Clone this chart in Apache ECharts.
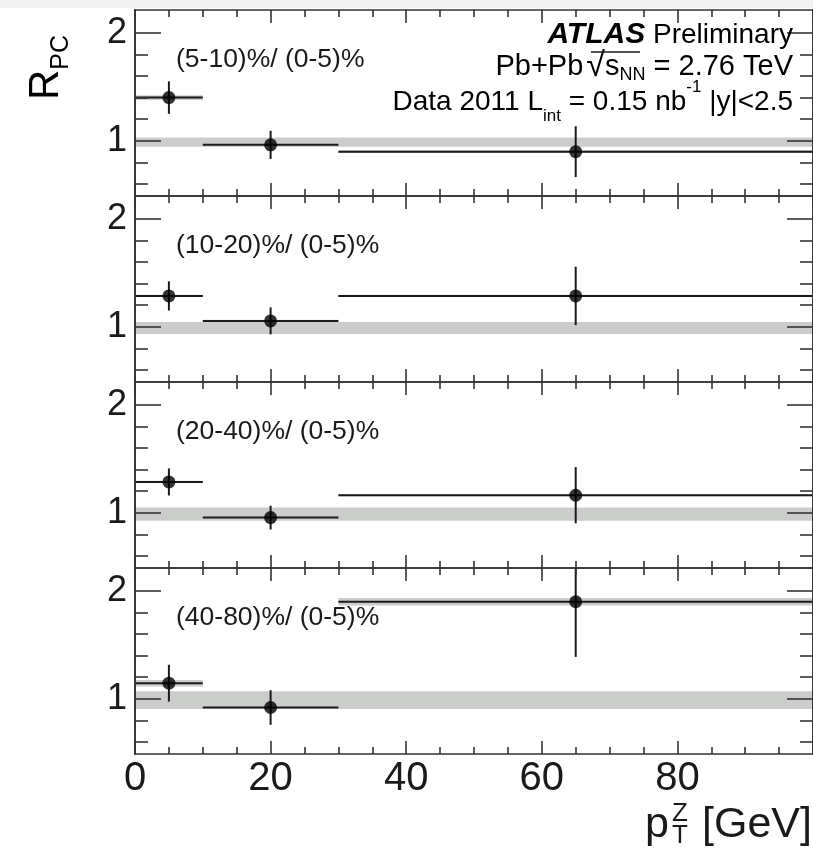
<!DOCTYPE html>
<html><head><meta charset="utf-8">
<script src="https://cdn.jsdelivr.net/npm/echarts@6/dist/echarts.min.js"></script>
<style>html,body{margin:0;padding:0;background:#fff}#c{width:813px;height:849px}</style>
</head><body><div id="c"></div>
<script>
// ---- data ----
const binLo = [0, 10, 30];
const binHi = [10, 30, 100];
const binCenter = [5, 20, 65];
const panelLabels = ['(5-10)%/ (0-5)%', '(10-20)%/ (0-5)%', '(20-40)%/ (0-5)%', '(40-80)%/ (0-5)%'];
const rpc_5_10  = [1.40, 0.963, 0.90];
const rpc_10_20 = [1.286, 1.055, 1.286];
const rpc_20_40 = [1.286, 0.956, 1.163];
const rpc_40_80 = [1.145, 0.92, 1.898];
const stat_5_10  = [0.15, 0.13, 0.235];
const stat_10_20 = [0.135, 0.125, 0.27];
const stat_20_40 = [0.125, 0.11, 0.26];
const stat_40_80 = [0.17, 0.16, 0.51];
const syst_5_10  = [0.022, 0.012, 0.012];
const syst_10_20 = [0.01, 0.01, 0.01];
const syst_20_40 = [0.01, 0.01, 0.01];
const syst_40_80 = [0.03, 0.015, 0.035];
const norm_5_10  = [0.945, 1.03];
const norm_10_20 = [0.935, 1.045];
const norm_20_40 = [0.927, 1.05];
const norm_40_80 = [0.905, 1.07];
const xTickLabels = [0, 20, 40, 60, 80];
const yTickLabels = [1, 2];
const yMinorTicks = [0.6, 0.8, 1.2, 1.4, 1.6, 1.8];
const xRange = [0, 100];
const yRange = [0.49, 2.21];

const panels = [
  {v: rpc_5_10, e: stat_5_10, s: syst_5_10, n: norm_5_10},
  {v: rpc_10_20, e: stat_10_20, s: syst_10_20, n: norm_10_20},
  {v: rpc_20_40, e: stat_20_40, s: syst_20_40, n: norm_20_40},
  {v: rpc_40_80, e: stat_40_80, s: syst_40_80, n: norm_40_80}
];

const FONT = '"Liberation Sans", Arial, Helvetica, sans-serif';
const INK = '#1a1a1a';
const AX = '#333';
const GREY = '#cbcdcb';
const PANEL_H = 186, TOP0 = 10, LEFT = 135, WIDTH = 680;

const grids = [], xAxes = [], yAxes = [], series = [], graphics = [];

function clampY(y, cs) { return Math.max(cs.y, Math.min(cs.y + cs.height, y)); }

panels.forEach((p, i) => {
  grids.push({left: LEFT, width: WIDTH, top: TOP0 + PANEL_H * i, height: PANEL_H, containLabel: false});
  const lineStyle = {color: AX, width: 1.6};
  ['bottom', 'top'].forEach(pos => {
    xAxes.push({
      type: 'value', gridIndex: i, min: xRange[0], max: xRange[1], interval: 20, position: pos, z: 10,
      axisLine: {show: true, onZero: false, lineStyle},
      axisTick: {show: true, inside: true, length: 13, lineStyle},
      minorTick: {show: true, splitNumber: 4, length: 7, lineStyle},
      splitLine: {show: false}, minorSplitLine: {show: false},
      axisLabel: {show: pos === 'bottom' && i === 3, customValues: xTickLabels, fontSize: 40,
        fontFamily: FONT, color: INK, margin: 5}
    });
  });
  ['left', 'right'].forEach(pos => {
    yAxes.push({
      type: 'value', gridIndex: i, min: yRange[0], max: yRange[1], position: pos, offset: 0, z: 10,
      axisLine: {show: true, onZero: false, lineStyle},
      axisTick: {show: true, inside: true, length: 26, customValues: yTickLabels, lineStyle},
      splitLine: {show: false},
      axisLabel: {show: pos === 'left', customValues: yTickLabels, fontSize: 36, fontFamily: FONT,
        color: INK, margin: 8}
    });
    yAxes.push({
      type: 'value', gridIndex: i, min: yRange[0], max: yRange[1], position: pos, offset: 0, z: 10,
      axisLine: {show: true, onZero: false, lineStyle},
      axisTick: {show: true, inside: true, length: 13, customValues: yMinorTicks, lineStyle},
      splitLine: {show: false},
      axisLabel: {show: false, customValues: yMinorTicks, inside: true}
    });
  });
  const xi = 2 * i, yi = 4 * i;
  // normalisation band
  series.push({
    type: 'custom', xAxisIndex: xi, yAxisIndex: yi, z: 1, silent: true,
    data: [[xRange[0], xRange[1], p.n[0], p.n[1]]],
    renderItem: (params, api) => {
      const a = api.coord([api.value(0), api.value(3)]);
      const b = api.coord([api.value(1), api.value(2)]);
      return {type: 'rect', shape: {x: a[0], y: a[1], width: b[0] - a[0], height: b[1] - a[1]},
        style: {fill: GREY}};
    }
  });
  // systematic boxes
  series.push({
    type: 'custom', xAxisIndex: xi, yAxisIndex: yi, z: 2, silent: true,
    data: p.v.map((v, k) => [binLo[k], binHi[k], v - p.s[k], v + p.s[k]]),
    renderItem: (params, api) => {
      const a = api.coord([api.value(0), api.value(3)]);
      const b = api.coord([api.value(1), api.value(2)]);
      return {type: 'rect', shape: {x: a[0], y: a[1], width: b[0] - a[0], height: b[1] - a[1]},
        style: {fill: GREY}};
    }
  });
  // error bars
  series.push({
    type: 'custom', xAxisIndex: xi, yAxisIndex: yi, z: 3, silent: true,
    data: p.v.map((v, k) => [binLo[k], binHi[k], binCenter[k], v, p.e[k]]),
    renderItem: (params, api) => {
      const cs = params.coordSys;
      const v = api.value(3), e = api.value(4);
      const l = api.coord([api.value(0), v]);
      const r = api.coord([api.value(1), v]);
      const t = api.coord([api.value(2), v + e]);
      const bt = api.coord([api.value(2), v - e]);
      const st = {stroke: INK, lineWidth: 2};
      return {type: 'group', children: [
        {type: 'line', shape: {x1: l[0], y1: l[1], x2: r[0], y2: r[1]}, style: st},
        {type: 'line', shape: {x1: t[0], y1: clampY(t[1], cs), x2: bt[0], y2: clampY(bt[1], cs)}, style: st}
      ]};
    }
  });
  // markers
  series.push({
    type: 'scatter', xAxisIndex: xi, yAxisIndex: yi, z: 4, silent: true,
    symbol: 'circle', symbolSize: 13, itemStyle: {color: '#000'},
    data: p.v.map((v, k) => [binCenter[k], v])
  });
  // panel label
  graphics.push({type: 'text', x: 176, y: 60 + PANEL_H * i, z: 20,
    style: {text: panelLabels[i], font: '26.5px ' + FONT, fill: INK, textAlign: 'left', textVerticalAlign: 'middle',
      align: 'left', verticalAlign: 'middle'}});
});

// top strip
graphics.push({type: 'rect', shape: {x: 0, y: 0, width: 813, height: 8}, style: {fill: '#f3f3f3'}, z: 0});

// ATLAS block
const rightX = 793;
graphics.push({type: 'text', x: rightX, y: 35, z: 20, style: {
  text: '{b|ATLAS}{n| Preliminary}', align: 'right', verticalAlign: 'middle', textAlign: 'right', textVerticalAlign: 'middle',
  rich: {b: {fontSize: 30, fontWeight: 'bold', fontStyle: 'italic', fontFamily: FONT, color: INK},
         n: {fontSize: 28, fontFamily: FONT, color: INK}}}});
graphics.push({type: 'text', x: rightX, y: 67, z: 20, style: {
  text: '{n|Pb+Pb}{r|√}{n|s}{sub|NN}{n| = 2.76 TeV}', align: 'right', verticalAlign: 'middle', textAlign: 'right', textVerticalAlign: 'middle',
  rich: {n: {fontSize: 29, lineHeight: 34, fontFamily: FONT, color: INK},
         r: {fontSize: 34, lineHeight: 34, fontFamily: FONT, color: INK, padding: [0, 0, 0, 3]},
         sub: {fontSize: 18, lineHeight: 17, verticalAlign: 'bottom', fontFamily: FONT, color: INK}}}});
graphics.push({type: 'line', shape: {x1: 591, y1: 52, x2: 640, y2: 52}, style: {stroke: INK, lineWidth: 1.3}, z: 20});
graphics.push({type: 'text', x: rightX, y: 102, z: 20, style: {
  text: '{n|Data 2011 L}{sub|int}{n| = 0.15 nb}{sup|-1}{n| |y|<2.5}', align: 'right', verticalAlign: 'middle', textAlign: 'right', textVerticalAlign: 'middle',
  rich: {n: {fontSize: 28, lineHeight: 46, fontFamily: FONT, color: INK},
         sub: {fontSize: 17, lineHeight: 17, verticalAlign: 'bottom', fontFamily: FONT, color: INK},
         sup: {fontSize: 17, lineHeight: 28, verticalAlign: 'top', fontFamily: FONT, color: INK}}}});

// y axis title R_PC (rotated)
graphics.push({type: 'text', x: 46, y: 35, rotation: Math.PI / 2, z: 20, style: {
  text: '{r|R}{s|PC}', align: 'right', verticalAlign: 'middle', textAlign: 'right', textVerticalAlign: 'middle',
  rich: {r: {fontSize: 42, lineHeight: 56, fontFamily: FONT, color: INK},
         s: {fontSize: 25, lineHeight: 25, verticalAlign: 'bottom', fontFamily: FONT, color: INK}}}});

// x axis title p_T^Z [GeV]
graphics.push({type: 'text', x: 645, y: 825, z: 20, style: {text: 'p', font: '43px ' + FONT, fill: INK,
  align: 'left', verticalAlign: 'middle', textAlign: 'left', textVerticalAlign: 'middle'}});
graphics.push({type: 'text', x: 672, y: 814, z: 20, style: {text: 'Z', font: '26px ' + FONT, fill: INK,
  align: 'left', verticalAlign: 'middle', textAlign: 'left', textVerticalAlign: 'middle'}});
graphics.push({type: 'text', x: 672, y: 836, z: 20, style: {text: 'T', font: '26px ' + FONT, fill: INK,
  align: 'left', verticalAlign: 'middle', textAlign: 'left', textVerticalAlign: 'middle'}});
graphics.push({type: 'text', x: 702, y: 825, z: 20, style: {text: '[GeV]', font: '43px ' + FONT, fill: INK,
  align: 'left', verticalAlign: 'middle', textAlign: 'left', textVerticalAlign: 'middle'}});

const chart = echarts.init(document.getElementById('c'), null, {renderer: 'canvas'});
chart.setOption({
  animation: false,
  backgroundColor: '#fff',
  grid: grids, xAxis: xAxes, yAxis: yAxes, series: series, graphic: graphics
});
</script></body></html>
